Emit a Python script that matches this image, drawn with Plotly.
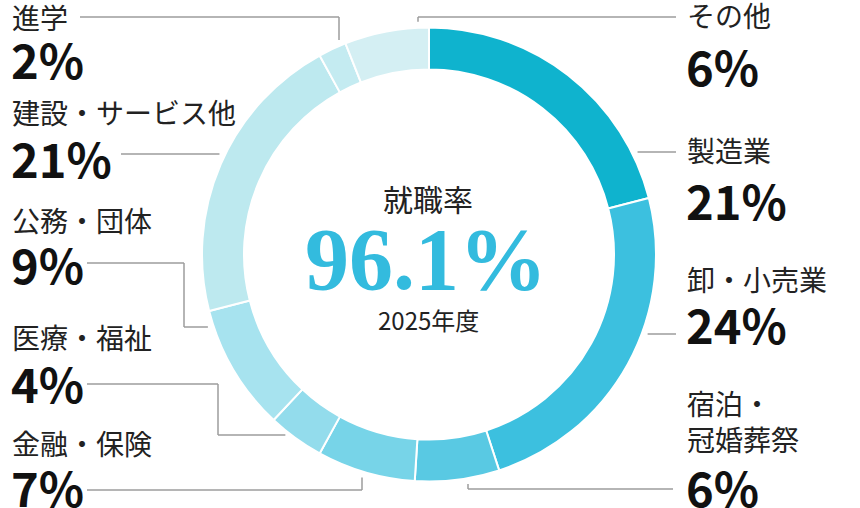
import math
import plotly.graph_objects as go

# slices clockwise from 12 o'clock
categories = ["製造業", "卸・小売業", "宿泊・<br>冠婚葬祭", "金融・保険", "医療・福祉",
              "公務・団体", "建設・サービス他", "進学", "その他"]
shares = [21, 24, 6, 7, 4, 9, 21, 2, 6]
slice_colors = ["#0fb3ce", "#3cc0df", "#59c9e3", "#77d4e8", "#93dcec",
                "#a7e3ef", "#bde9ef", "#c4ebf1", "#d4eff3"]
rate_title = "就職率"
rate_value = "96.1%"
rate_year = "2025年度"

W, H = 860, 508
CX, CY, R = 429, 254.5, 227   # ring centre / outer radius in px
HOLE = 0.815
GAP = 6

# label block: (left x, name centre y, pct centre y, connector path, end type)
# connector path = elbow points in px; the last leg is extended to the ring
label_layout = {
    "製造業":       (685, 150, 200, [(676, 152)], "h"),
    "卸・小売業":   (685, 279, 323, [(676, 334)], "h"),
    "宿泊・<br>冠婚葬祭": (685, 421, 486, [(673, 489), (468, 489)], "v"),
    "金融・保険":   (10, 443, 486, [(87, 490), (362, 490)], "v"),
    "医療・福祉":   (10, 337, 382, [(87, 384), (218, 384), (218, 435)], "h"),
    "公務・団体":   (10, 220, 263, [(87, 263), (184, 263), (184, 327)], "h"),
    "建設・サービス他": (10, 112, 157, [(121, 154)], "h"),
    "進学":         (10, 17, 58, [(80, 17), (339, 17)], "v"),
    "その他":       (685, 15, 65, [(676, 17), (418, 17)], "v"),
}


def px(x):
    return x / W


def py(y):
    return 1 - y / H


fig = go.Figure(go.Pie(
    labels=categories,
    values=shares,
    sort=False,
    direction="clockwise",
    rotation=0,
    hole=HOLE,
    textinfo="none",
    hoverinfo="label+percent",
    marker=dict(colors=slice_colors, line=dict(color="white", width=2)),
    domain=dict(x=[px(CX - R), px(CX + R)], y=[py(CY + R), py(CY - R)]),
    showlegend=False,
))

shapes = []
annotations = []
for cat, val in zip(categories, shares):
    lx, name_y, pct_y, path, end = label_layout[cat]
    # leader line: elbows, then last leg runs to the ring edge
    x0, y0 = path[-1]
    if end == "h":
        dy = y0 - CY
        dx = math.sqrt(R * R - dy * dy) + GAP
        tip = (CX + dx if x0 > CX else CX - dx, y0)
    else:
        dx = x0 - CX
        dy = math.sqrt(R * R - dx * dx) + GAP
        tip = (x0, CY + dy if y0 > CY else CY - dy)
    pts = path + [tip]
    for (a, b), (c, d) in zip(pts[:-1], pts[1:]):
        shapes.append(dict(type="line", xref="paper", yref="paper",
                           x0=px(a), y0=py(b), x1=px(c), y1=py(d),
                           line=dict(color="#9c9c9c", width=1.5)))
    annotations.append(dict(
        x=px(lx), y=py(name_y), xref="paper", yref="paper",
        text=cat, showarrow=False, xanchor="left", yanchor="middle", align="left",
        font=dict(family="Noto Sans CJK JP", size=28, color="#222222"),
    ))
    annotations.append(dict(
        x=px(lx - 1), y=py(pct_y), xref="paper", yref="paper",
        text=f"{val}%", showarrow=False, xanchor="left", yanchor="middle",
        font=dict(family="Noto Sans CJK JP", size=47, color="#111111", weight="bold"),
    ))

# centre text
annotations += [
    dict(x=px(428), y=py(198), xref="paper", yref="paper", text=rate_title,
         showarrow=False, font=dict(family="Noto Sans CJK JP", size=30, color="#222222")),
    dict(x=px(426), y=py(259), xref="paper", yref="paper", text=rate_value,
         showarrow=False, font=dict(family="Liberation Serif", size=88, color="#33bbde",
                                    weight="bold")),
    dict(x=px(428), y=py(319), xref="paper", yref="paper", text=rate_year,
         showarrow=False, font=dict(family="Noto Sans CJK JP", size=24, color="#222222")),
]

fig.update_layout(
    width=W, height=H,
    margin=dict(l=0, r=0, t=0, b=0),
    paper_bgcolor="white",
    plot_bgcolor="white",
    shapes=shapes,
    annotations=annotations,
)

# page body has a default 8px margin; drop it so the figure fills the window
fig.write_html("out.html", config={"displayModeBar": False},
               post_script="document.body.style.margin='0';")
